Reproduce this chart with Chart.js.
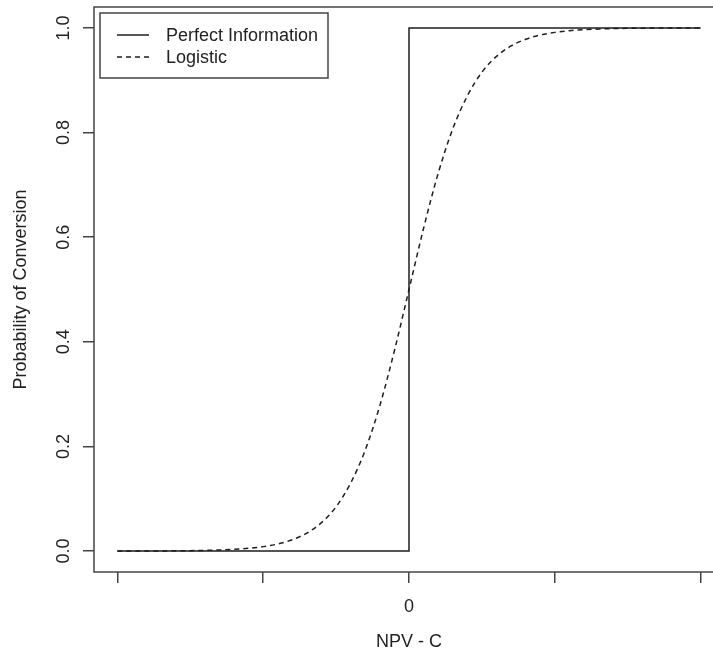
<!DOCTYPE html>
<html><head><meta charset="utf-8">
<script src="https://cdn.jsdelivr.net/npm/chart.js@4/dist/chart.umd.min.js"></script>
<style>html,body{margin:0;padding:0;background:#fff;overflow:hidden;width:713px;height:662px}canvas{display:block}</style>
</head><body>
<canvas id="c" width="740" height="662"></canvas>
<script>
// ---- data ----
const xTicks = [-2, -1, 0, 1, 2];
const xTickLabels = ['', '', '0', '', ''];
const yTicks = [0, 0.2, 0.4, 0.6, 0.8, 1.0];
const yTickLabels = ['0.0', '0.2', '0.4', '0.6', '0.8', '1.0'];
const seriesNames = ['Perfect Information', 'Logistic'];
const xTitle = 'NPV - C';
const yTitle = 'Probability of Conversion';

const perfectX = [-2, 0, 0, 2];
const perfectY = [0, 0, 1, 1];

const logisticX = [-2.0,-1.9,-1.8,-1.7,-1.6,-1.5,-1.4,-1.3,-1.2,-1.1,-1.0,-0.9,-0.8,-0.7,-0.6,-0.5,-0.4,-0.3,-0.2,-0.1,
  0.0,0.1,0.2,0.3,0.4,0.5,0.6,0.7,0.8,0.9,1.0,1.1,1.2,1.3,1.4,1.5,1.6,1.7,1.8,1.9,2.0];
const logisticY = [0.0001,0.0001,0.0002,0.0003,0.0005,0.0008,0.0013,0.0021,0.0033,0.0053,0.0085,0.0135,0.0217,0.0345,0.0543,0.0846,0.130,0.193,0.278,0.383,
  0.500,0.617,0.722,0.807,0.870,0.9154,0.9457,0.9655,0.9783,0.9865,0.9915,0.9947,0.9967,0.9979,0.9987,0.9992,0.9995,0.9997,0.9998,0.9999,0.9999];

const LINE = '#1e1e1e';
const BOX = '#444';
const TEXT = '#222';
const FONT = '18px "Liberation Sans", Arial, sans-serif';

const toPts = (xs, ys) => xs.map((x, i) => ({x: x, y: ys[i]}));

const rPlot = {
  id: 'rPlot',
  afterDraw(chart) {
    const ctx = chart.ctx, a = chart.chartArea;
    const xs = chart.scales.x, ys = chart.scales.y;
    ctx.save();
    // box
    ctx.strokeStyle = BOX; ctx.lineWidth = 1.5;
    ctx.strokeRect(a.left, a.top, a.right - a.left, a.bottom - a.top);
    ctx.fillStyle = TEXT; ctx.font = FONT;
    // x tick labels
    ctx.textAlign = 'center'; ctx.textBaseline = 'middle';
    xTicks.forEach((v, i) => { if (xTickLabels[i]) ctx.fillText(xTickLabels[i], xs.getPixelForValue(v), 607); });
    // x title
    ctx.fillText(xTitle, (xs.getPixelForValue(-2) + xs.getPixelForValue(2)) / 2, 642);
    // y tick labels (rotated)
    yTicks.forEach((v, i) => {
      ctx.save();
      ctx.translate(64, ys.getPixelForValue(v));
      ctx.rotate(-Math.PI / 2);
      ctx.fillText(yTickLabels[i], 0, 0);
      ctx.restore();
    });
    // y title
    ctx.save();
    ctx.translate(21, (ys.getPixelForValue(0) + ys.getPixelForValue(1)) / 2);
    ctx.rotate(-Math.PI / 2);
    ctx.fillText(yTitle, 0, 0);
    ctx.restore();
    // legend
    const lx = a.left + 6, ly = a.top + 6, lw = 228, lh = 65;
    ctx.fillStyle = '#fff';
    ctx.fillRect(lx, ly, lw, lh);
    ctx.strokeStyle = BOX; ctx.lineWidth = 1.5;
    ctx.strokeRect(lx, ly, lw, lh);
    chart.data.datasets.forEach((ds, i) => {
      const yy = ly + 22 + i * 22;
      ctx.strokeStyle = ds.borderColor; ctx.lineWidth = ds.borderWidth;
      ctx.setLineDash(ds.borderDash || []);
      ctx.beginPath(); ctx.moveTo(lx + 17, yy); ctx.lineTo(lx + 49, yy); ctx.stroke();
      ctx.setLineDash([]);
      ctx.fillStyle = TEXT; ctx.textAlign = 'left'; ctx.textBaseline = 'middle';
      ctx.fillText(ds.label, lx + 66, yy + 1);
    });
    ctx.restore();
  }
};

new Chart(document.getElementById('c'), {
  type: 'line',
  data: {
    datasets: [
      { label: seriesNames[0], data: toPts(perfectX, perfectY), borderColor: LINE, borderWidth: 1.5,
        pointRadius: 0, tension: 0, fill: false },
      { label: seriesNames[1], data: toPts(logisticX, logisticY), borderColor: LINE, borderWidth: 1.5,
        borderDash: [5, 4], pointRadius: 0, cubicInterpolationMode: 'monotone', fill: false }
    ]
  },
  options: {
    responsive: false, animation: false, devicePixelRatio: 1,
    layout: { padding: { top: 7, right: 16, left: 0, bottom: 0 } },
    plugins: { legend: { display: false }, tooltip: { enabled: false } },
    scales: {
      x: {
        type: 'linear', min: -2.16, max: 2.16,
        afterBuildTicks: s => { s.ticks = xTicks.map(v => ({ value: v })); },
        afterFit: s => { s.height = 90; },
        ticks: { display: false },
        grid: { drawOnChartArea: false, drawTicks: true, tickLength: 11, color: BOX, lineWidth: 1.5 },
        border: { display: false }
      },
      y: {
        type: 'linear', min: -0.04, max: 1.04,
        afterBuildTicks: s => { s.ticks = yTicks.map(v => ({ value: v })); },
        afterFit: s => { s.width = 94; },
        ticks: { display: false },
        grid: { drawOnChartArea: false, drawTicks: true, tickLength: 11, color: BOX, lineWidth: 1.5 },
        border: { display: false }
      }
    }
  },
  plugins: [rPlot]
});
</script>
</body></html>
